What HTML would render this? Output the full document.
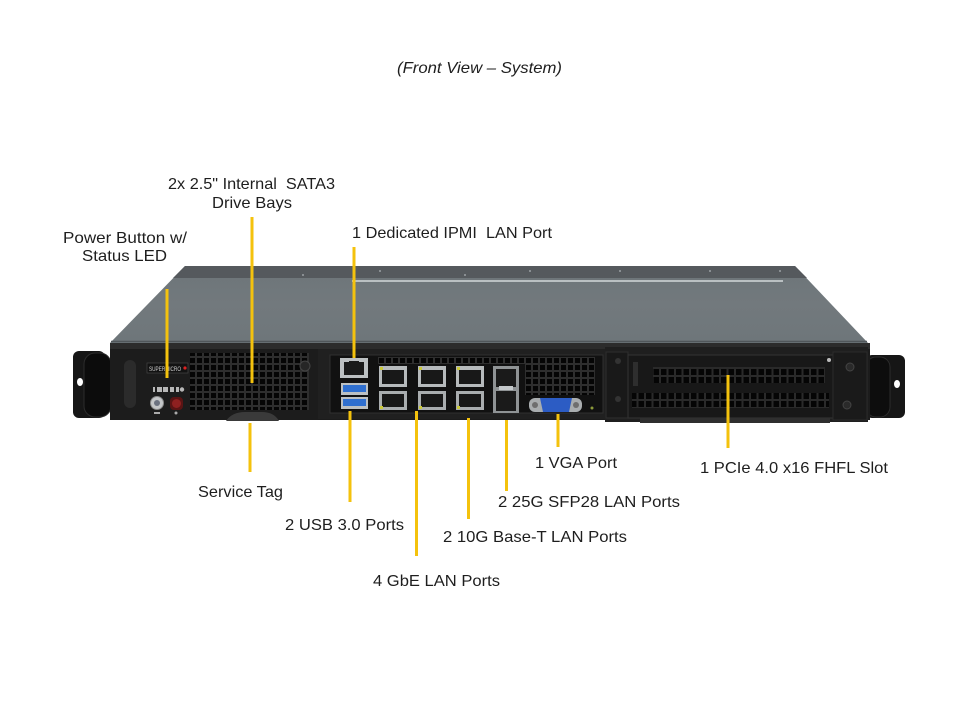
<!DOCTYPE html>
<html><head><meta charset="utf-8"><style>
html,body{margin:0;padding:0;background:#fff;}
svg{display:block;}
text{font-family:"Liberation Sans",Arial,sans-serif;font-size:16px;fill:#1e1e1e;}
</style></head><body>
<svg width="960" height="720" viewBox="0 0 960 720" xmlns="http://www.w3.org/2000/svg">
<defs>
 <linearGradient id="topg" x1="0" y1="0" x2="0" y2="1">
  <stop offset="0" stop-color="#6d7579"/>
  <stop offset="0.5" stop-color="#72797d"/>
  <stop offset="1" stop-color="#6e767a"/>
 </linearGradient>
 <pattern id="vent" x="0" y="0" width="7" height="7" patternUnits="userSpaceOnUse">
  <rect width="7" height="7" fill="#2e2e2e"/><rect x="1" y="1" width="5" height="5" fill="#050505"/>
 </pattern>
 <pattern id="vent2" x="0" y="0" width="7.5" height="8" patternUnits="userSpaceOnUse">
  <rect width="7.5" height="8" fill="#2a2a2a"/><rect x="1" y="1" width="5.5" height="6" fill="#050505"/>
 </pattern>
</defs>
<rect width="960" height="720" fill="#fff"/>

<!-- title -->
<text x="397" y="73" font-style="italic" textLength="165" lengthAdjust="spacingAndGlyphs">(Front View – System)</text>

<!-- top face -->
<polygon points="185,266 795,266 868,343 110,343" fill="url(#topg)"/>
<polygon points="185,266 795,266 807,278 173,278" fill="#55595d"/>
<line x1="352" y1="281" x2="783" y2="281" stroke="#d4d8da" stroke-width="1.5"/>
<line x1="111" y1="341.5" x2="867" y2="341.5" stroke="#50565a" stroke-width="1.5"/>
<g fill="#9aa0a3">
 <circle cx="380" cy="271" r="1"/><circle cx="465" cy="275" r="1"/><circle cx="530" cy="271" r="1"/>
 <circle cx="620" cy="271" r="1"/><circle cx="710" cy="271" r="1"/><circle cx="780" cy="271" r="1"/>
 <circle cx="303" cy="275" r="1"/>
</g>

<!-- ears -->
<rect x="73" y="351" width="32" height="67" rx="6" fill="#161616"/>
<rect x="84" y="353" width="27" height="64" rx="11" fill="#0c0c0c" stroke="#2c2c2c"/>
<ellipse cx="80" cy="382" rx="3" ry="4" fill="#fff"/>
<rect x="866" y="355" width="39" height="63" rx="6" fill="#161616"/>
<rect x="866" y="357" width="24" height="60" rx="10" fill="#0d0d0d" stroke="#2c2c2c"/>
<ellipse cx="897" cy="384" rx="3" ry="4" fill="#fff"/>

<!-- front panel -->
<rect x="110" y="343" width="760" height="77" fill="#1c1c1c"/>
<rect x="110" y="343" width="760" height="6" fill="#2c2c2c"/>

<!-- left section -->
<rect x="124" y="360" width="12" height="48" rx="6" fill="#2b2b2b"/>
<rect x="147" y="363" width="41" height="10" fill="#121212" stroke="#444" stroke-width="0.7"/>
<text x="149" y="371" style="font-size:6px;fill:#d0d0d0" textLength="32" lengthAdjust="spacingAndGlyphs">SUPERMICRO</text>
<circle cx="185" cy="368" r="1.6" fill="#d22"/>
<g fill="#b8b8b8">
 <rect x="153" y="387" width="2" height="5"/><rect x="157" y="387" width="5" height="5"/>
 <rect x="163" y="387" width="5" height="5"/><rect x="170" y="387" width="4" height="5"/>
 <rect x="176" y="387" width="3" height="5"/><circle cx="182" cy="389.5" r="2.2"/>
</g>
<circle cx="157" cy="403" r="6.5" fill="#c4c6c8" stroke="#888"/>
<circle cx="157" cy="403" r="3" fill="#6c7280"/>
<rect x="170" y="397" width="13" height="13" rx="4" fill="#5a1414"/>
<circle cx="176.5" cy="403.5" r="4.5" fill="#8e2020"/>
<rect x="154" y="412" width="6" height="2" fill="#aaa"/>
<circle cx="176" cy="413" r="1.5" fill="#aaa"/>
<rect x="190" y="353" width="119" height="57" fill="url(#vent)"/>
<circle cx="305" cy="366" r="5" fill="#262626" stroke="#444"/>
<circle cx="323" cy="358" r="4" fill="#262626" stroke="#444"/>
<path d="M226 421 Q232 412 245 412 L262 412 Q274 412 279 421 Z" fill="#3a3a3a"/>

<!-- middle IO section -->
<rect x="318" y="349" width="289" height="70" fill="#202020"/>
<rect x="330" y="355" width="273" height="58" fill="#111" stroke="#2f2f2f"/>
<rect x="378" y="357" width="147" height="7" fill="url(#vent)"/>
<rect x="525" y="357" width="70" height="38" fill="url(#vent)"/>
<!-- IPMI -->
<rect x="340" y="358" width="28" height="20" fill="#bcc0c2"/>
<rect x="344" y="362" width="20" height="13" fill="#1a1a1a"/>
<rect x="349" y="361" width="10" height="3" fill="#1a1a1a"/>
<!-- USB -->
<rect x="341" y="383" width="27" height="12" fill="#bcc0c2"/>
<rect x="343" y="385" width="23" height="7" fill="#2f6fcf"/>
<rect x="341" y="397" width="27" height="12" fill="#bcc0c2"/>
<rect x="343" y="399" width="23" height="7" fill="#2f6fcf"/>
<!-- RJ45 grid -->
<g>
 <rect x="379" y="366" width="28" height="21" fill="#b6babc"/><rect x="382" y="370" width="22" height="14" fill="#181818"/>
 <rect x="418" y="366" width="28" height="21" fill="#b6babc"/><rect x="421" y="370" width="22" height="14" fill="#181818"/>
 <rect x="456" y="366" width="28" height="21" fill="#b6babc"/><rect x="459" y="370" width="22" height="14" fill="#181818"/>
 <rect x="379" y="391" width="28" height="19" fill="#a9adaf"/><rect x="382" y="394" width="22" height="13" fill="#181818"/>
 <rect x="418" y="391" width="28" height="19" fill="#a9adaf"/><rect x="421" y="394" width="22" height="13" fill="#181818"/>
 <rect x="456" y="391" width="28" height="19" fill="#a9adaf"/><rect x="459" y="394" width="22" height="13" fill="#181818"/>
 <g fill="#c9c83a">
  <rect x="380" y="367" width="3" height="3"/><rect x="419" y="367" width="3" height="3"/><rect x="457" y="367" width="3" height="3"/>
  <rect x="380" y="406" width="3" height="3"/><rect x="419" y="406" width="3" height="3"/><rect x="457" y="406" width="3" height="3"/>
 </g>
</g>
<!-- SFP -->
<rect x="493" y="366" width="26" height="47" fill="#8f9395"/>
<rect x="496" y="369" width="20" height="18" fill="#1a1a1a"/>
<rect x="496" y="391" width="20" height="20" fill="#1a1a1a"/>
<rect x="499" y="386" width="14" height="4" fill="#c4c8ca"/>
<!-- VGA -->
<rect x="529" y="398" width="53" height="14" rx="6" fill="#a9adaf"/>
<circle cx="535" cy="405" r="3" fill="#6e6e6e"/><circle cx="576" cy="405" r="3" fill="#6e6e6e"/>
<polygon points="540,398 572,398 569,412 543,412" fill="#2c5cc4"/>
<circle cx="592" cy="408" r="1.5" fill="#8c9a3a"/>

<!-- right section -->
<rect x="605" y="347" width="263" height="75" fill="#1f1f1f"/>
<rect x="606" y="352" width="22" height="66" fill="#191919" stroke="#2e2e2e"/>
<circle cx="618" cy="361" r="3" fill="#333"/><circle cx="618" cy="399" r="3" fill="#333"/>
<rect x="628" y="355" width="205" height="63" fill="#181818" stroke="#333"/>
<rect x="633" y="362" width="5" height="24" fill="#2e2e2e"/>
<rect x="653" y="367" width="172" height="16" fill="url(#vent2)"/>
<rect x="632" y="393" width="197" height="15" fill="url(#vent2)"/>
<rect x="640" y="418" width="190" height="5" fill="#2f2f2f"/>
<rect x="833" y="352" width="34" height="68" fill="#1a1a1a" stroke="#2b2b2b"/>
<circle cx="850" cy="367" r="4" fill="#2a2a2a" stroke="#444"/>
<circle cx="847" cy="405" r="4" fill="#2a2a2a" stroke="#444"/>
<circle cx="829" cy="360" r="2" fill="#bbb"/>

<!-- leader lines -->
<g stroke="#f4c20d" stroke-width="3">
 <line x1="167" y1="289" x2="167" y2="378"/>
 <line x1="252" y1="217" x2="252" y2="383"/>
 <line x1="354" y1="247" x2="354" y2="358"/>
 <line x1="250" y1="423" x2="250" y2="472"/>
 <line x1="350" y1="411" x2="350" y2="502"/>
 <line x1="416.5" y1="411" x2="416.5" y2="556"/>
 <line x1="468.5" y1="418" x2="468.5" y2="519"/>
 <line x1="506.5" y1="420" x2="506.5" y2="491"/>
 <line x1="558" y1="414" x2="558" y2="447"/>
 <line x1="728" y1="375" x2="728" y2="448"/>
</g>

<!-- labels -->
<text x="168" y="189" xml:space="preserve" textLength="167" lengthAdjust="spacingAndGlyphs">2x 2.5" Internal  SATA3</text>
<text x="212" y="208" textLength="80" lengthAdjust="spacingAndGlyphs">Drive Bays</text>
<text x="352" y="238" xml:space="preserve" textLength="200" lengthAdjust="spacingAndGlyphs">1 Dedicated IPMI  LAN Port</text>
<text x="63" y="243" textLength="124" lengthAdjust="spacingAndGlyphs">Power Button w/</text>
<text x="82" y="261" textLength="85" lengthAdjust="spacingAndGlyphs">Status LED</text>
<text x="198" y="497" textLength="85" lengthAdjust="spacingAndGlyphs">Service Tag</text>
<text x="285" y="530" textLength="119" lengthAdjust="spacingAndGlyphs">2 USB 3.0 Ports</text>
<text x="373" y="586" textLength="127" lengthAdjust="spacingAndGlyphs">4 GbE LAN Ports</text>
<text x="443" y="542" textLength="184" lengthAdjust="spacingAndGlyphs">2 10G Base-T LAN Ports</text>
<text x="498" y="507" textLength="182" lengthAdjust="spacingAndGlyphs">2 25G SFP28 LAN Ports</text>
<text x="535" y="468" textLength="82" lengthAdjust="spacingAndGlyphs">1 VGA Port</text>
<text x="700" y="473" textLength="188" lengthAdjust="spacingAndGlyphs">1 PCIe 4.0 x16 FHFL Slot</text>
</svg>
</body></html>
